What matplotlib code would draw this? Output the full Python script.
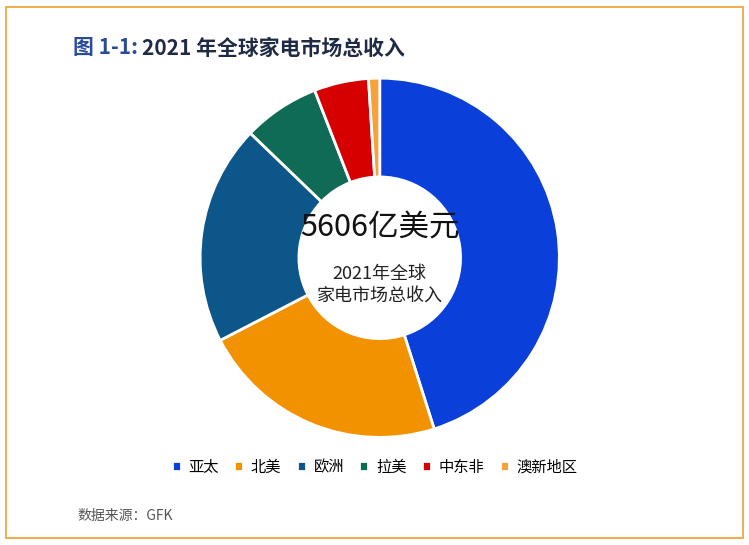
import matplotlib
matplotlib.use("Agg")
import matplotlib.pyplot as plt
from matplotlib.patches import Rectangle

plt.rcParams["font.family"] = "Noto Sans CJK SC"

regions = ["亚太", "北美", "欧洲", "拉美", "中东非", "澳新地区"]
shares = [45.1, 22.3, 19.8, 6.9, 4.9, 1.0]
colors = ["#0b3fd9", "#f39200", "#0d5689", "#0f6b55", "#d60000", "#f5a23a"]

fig = plt.figure(figsize=(7.49, 5.45), dpi=100)
fig.patches.append(Rectangle((0.008, 0.012), 0.984, 0.976, transform=fig.transFigure,
                             fill=False, edgecolor="#f0a030", linewidth=1.2))
fig.text(0.097, 0.9, "图 1-1:", color="#2a4a9a", fontsize=15, fontweight="bold")
fig.text(0.19, 0.9, "2021 年全球家电市场总收入", color="#1f2a44", fontsize=15, fontweight="bold")
fig.text(0.103, 0.045, "数据来源：GFK", color="#555555", fontsize=10)

ax = fig.add_axes([0.207, 0.115, 0.6, 0.824])
wedges, _ = ax.pie(shares, colors=colors, startangle=90, counterclock=False,
                   wedgeprops=dict(width=0.55, edgecolor="white", linewidth=2))
ax.set_aspect("equal")
ax.text(0, 0.17, "5606亿美元", ha="center", va="center", fontsize=22, color="#111111")
ax.text(0, -0.15, "2021年全球\n家电市场总收入", ha="center", va="center", fontsize=13,
        color="#222222", linespacing=1.3)

fig.legend(wedges, regions, loc="center", bbox_to_anchor=(0.5, 0.143), ncol=6, frameon=False,
           fontsize=11, handlelength=0.6, handleheight=0.6, columnspacing=1.0, handletextpad=0.5)
fig.savefig("out.png", dpi=100)
